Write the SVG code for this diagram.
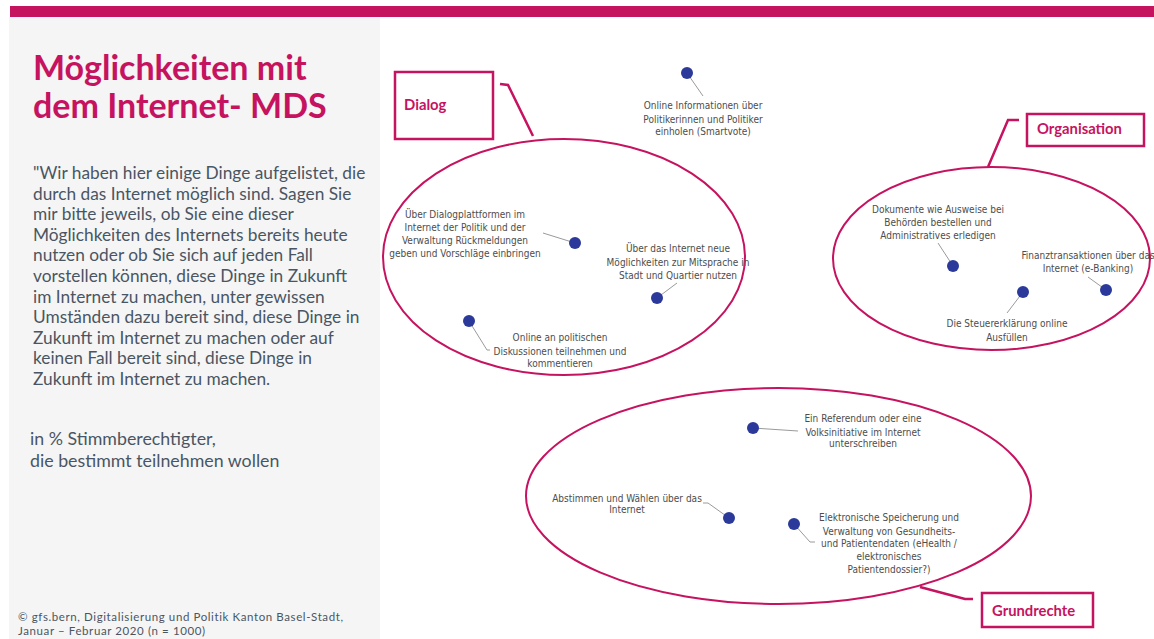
<svg xmlns="http://www.w3.org/2000/svg" width="1154" height="639" viewBox="0 0 1154 639">
<style>
.pink{stroke:#c6135f;fill:none}
.title{font-family:Lato,"Noto Sans",sans-serif;font-weight:bold;font-size:34px;fill:#c6135f}
.body{font-family:Lato,"Noto Sans",sans-serif;font-size:17.3px;fill:#4a5563}
.basis{font-family:Lato,"Noto Sans",sans-serif;font-size:17.8px;fill:#4a5563}
.foot{font-family:Lato,"Noto Sans",sans-serif;font-size:11.5px;letter-spacing:0.6px;fill:#4a5563}
.cat{font-family:Lato,"Noto Sans",sans-serif;font-weight:bold;font-size:14.8px;fill:#c6135f}
.lbl{font-family:"Liberation Sans Narrow","DejaVu Sans Condensed",sans-serif;font-stretch:condensed;font-size:10px;fill:#4d4d4d;text-anchor:middle}
.dot{fill:#2b3a9a}
.lead{stroke:#9a9a9a;stroke-width:1;fill:none}
</style>
<rect x="0" y="0" width="1154" height="639" fill="#ffffff"/>
<rect x="9" y="17" width="371" height="622" fill="#f5f5f5"/>
<rect x="10" y="6" width="1144" height="11" fill="#c6135f"/>

<g id="title">
<text class="title" x="33" y="80">Möglichkeiten mit</text>
<text class="title" x="33" y="118">dem Internet- MDS</text>
</g>
<g id="question" class="body">
<text x="33" y="179">"Wir haben hier einige Dinge aufgelistet, die</text>
<text x="33" y="199.6">durch das Internet möglich sind. Sagen Sie</text>
<text x="33" y="220.2">mir bitte jeweils, ob Sie eine dieser</text>
<text x="33" y="240.8">Möglichkeiten des Internets bereits heute</text>
<text x="33" y="261.4">nutzen oder ob Sie sich auf jeden Fall</text>
<text x="33" y="282">vorstellen können, diese Dinge in Zukunft</text>
<text x="33" y="302.6">im Internet zu machen, unter gewissen</text>
<text x="33" y="323.2">Umständen dazu bereit sind, diese Dinge in</text>
<text x="33" y="343.8">Zukunft im Internet zu machen oder auf</text>
<text x="33" y="364.4">keinen Fall bereit sind, diese Dinge in</text>
<text x="33" y="385">Zukunft im Internet zu machen.</text>
</g>
<g id="basis" class="basis">
<text x="30" y="445">in % Stimmberechtigter,</text>
<text x="30" y="467">die bestimmt teilnehmen wollen</text>
</g>
<g id="source" class="foot">
<text x="18" y="621">©  gfs.bern, Digitalisierung und Politik Kanton Basel-Stadt,</text>
<text x="18" y="634.5">Januar – Februar 2020  (n = 1000)</text>
</g>

<g id="connectors">
<ellipse class="pink" stroke-width="2" cx="564" cy="257" rx="181" ry="118"/>
<ellipse class="pink" stroke-width="2" cx="991.5" cy="258.5" rx="158.5" ry="91.5"/>
<ellipse class="pink" stroke-width="2" cx="778.5" cy="496" rx="252.5" ry="108"/>
<polyline class="pink" stroke-width="2.5" points="500,84 508,85 533,136"/>
<polyline class="pink" stroke-width="2.5" points="1019,120 1008,120 988,167"/>
<polyline class="pink" stroke-width="2.5" points="920,587 965,599 973,599"/>
<line class="lead" x1="687" y1="73" x2="703" y2="96"/>
<line class="lead" x1="575" y1="243" x2="543" y2="233"/>
<line class="lead" x1="657" y1="298" x2="677" y2="283"/>
<polyline class="lead" points="469,321 487,350 490,350"/>
<line class="lead" x1="953" y1="266" x2="938" y2="243"/>
<line class="lead" x1="1023" y1="292" x2="1007" y2="313"/>
<line class="lead" x1="1106" y1="290" x2="1088" y2="277"/>
<line class="lead" x1="753" y1="428" x2="798" y2="431"/>
<polyline class="lead" points="729,518 708,503 703,503"/>
<polyline class="lead" points="794,524 810,542 815,542"/>
</g>

<g id="dialog">
<rect class="pink" stroke-width="2.5" x="395" y="72" width="98" height="67"/>
<text class="cat" x="404" y="110">Dialog</text>
</g>
<g id="organisation">
<rect class="pink" stroke-width="2.5" x="1027" y="114" width="117" height="32"/>
<text class="cat" x="1037" y="134">Organisation</text>
</g>
<g id="grundrechte">
<rect class="pink" stroke-width="2.5" x="982" y="593" width="111" height="34"/>
<text class="cat" x="992" y="616">Grundrechte</text>
</g>

<g id="smartvote">
<circle class="dot" cx="687" cy="73" r="6"/>
<text class="lbl" x="703" y="109">Online Informationen über</text>
<text class="lbl" x="703" y="123">Politikerinnen und Politiker</text>
<text class="lbl" x="703" y="135">einholen (Smartvote)</text>
</g>
<g id="dialogplattformen">
<circle class="dot" cx="575" cy="243" r="6"/>
<text class="lbl" x="465" y="218">Über Dialogplattformen im</text>
<text class="lbl" x="465" y="231">Internet der Politik und der</text>
<text class="lbl" x="465" y="244">Verwaltung Rückmeldungen</text>
<text class="lbl" x="465" y="257">geben und Vorschläge einbringen</text>
</g>
<g id="mitsprache">
<circle class="dot" cx="657" cy="298" r="6"/>
<text class="lbl" x="678" y="252">Über das Internet neue</text>
<text class="lbl" x="678" y="266">Möglichkeiten zur Mitsprache in</text>
<text class="lbl" x="678" y="279">Stadt und Quartier nutzen</text>
</g>
<g id="diskussionen">
<circle class="dot" cx="469" cy="321" r="6"/>
<text class="lbl" x="560" y="341">Online an politischen</text>
<text class="lbl" x="560" y="355">Diskussionen teilnehmen und</text>
<text class="lbl" x="560" y="367">kommentieren</text>
</g>
<g id="dokumente">
<circle class="dot" cx="953" cy="266" r="6"/>
<text class="lbl" x="938" y="213">Dokumente wie Ausweise bei</text>
<text class="lbl" x="938" y="226">Behörden bestellen und</text>
<text class="lbl" x="938" y="239">Administratives erledigen</text>
</g>
<g id="steuer">
<circle class="dot" cx="1023" cy="292" r="6"/>
<text class="lbl" x="1007" y="327">Die Steuererklärung online</text>
<text class="lbl" x="1007" y="341">Ausfüllen</text>
</g>
<g id="finanz">
<circle class="dot" cx="1106" cy="290" r="6"/>
<text class="lbl" x="1088" y="259">Finanztransaktionen über das</text>
<text class="lbl" x="1088" y="272">Internet (e-Banking)</text>
</g>
<g id="referendum">
<circle class="dot" cx="753" cy="428" r="6"/>
<text class="lbl" x="863" y="422">Ein Referendum oder eine</text>
<text class="lbl" x="863" y="436">Volksinitiative im Internet</text>
<text class="lbl" x="863" y="447">unterschreiben</text>
</g>
<g id="abstimmen">
<circle class="dot" cx="729" cy="518" r="6"/>
<text class="lbl" x="627" y="502">Abstimmen und Wählen über das</text>
<text class="lbl" x="627" y="513">Internet</text>
</g>
<g id="ehealth">
<circle class="dot" cx="794" cy="524" r="6"/>
<text class="lbl" x="889" y="521">Elektronische Speicherung und</text>
<text class="lbl" x="889" y="535">Verwaltung von Gesundheits-</text>
<text class="lbl" x="889" y="547">und Patientendaten (eHealth /</text>
<text class="lbl" x="889" y="560">elektronisches</text>
<text class="lbl" x="889" y="573">Patientendossier?)</text>
</g>
</svg>
